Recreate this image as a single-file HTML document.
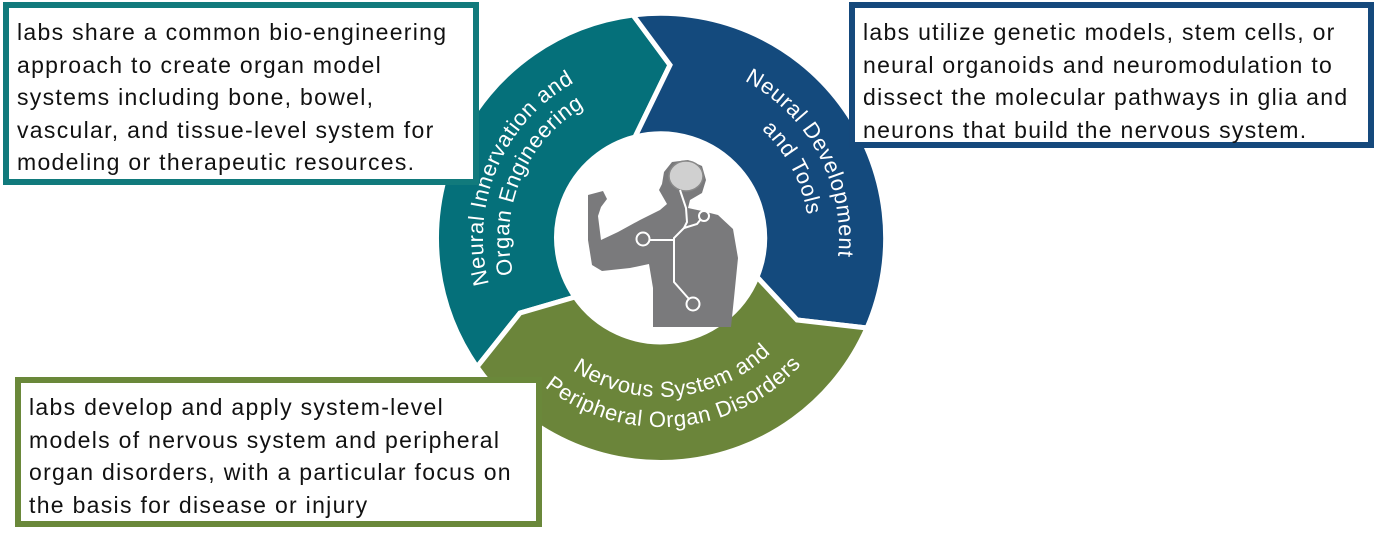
<!DOCTYPE html>
<html><head><meta charset="utf-8"><style>
html,body{margin:0;padding:0;background:#fff;}
body{width:1382px;height:535px;position:relative;overflow:hidden;font-family:"Liberation Sans",Arial,sans-serif;}
.box{position:absolute;background:#fff;box-sizing:border-box;font-size:23px;letter-spacing:1.3px;line-height:32.5px;color:#111;white-space:nowrap;}
</style></head><body>
<svg width="1382" height="535" style="position:absolute;left:0;top:0">
<defs>
<path id="t1" d="M 524.6 352.4 A 178 178 0 0 1 648.6 60.4"/>
<path id="t2" d="M 544.6 335.7 A 152 152 0 0 1 650.4 86.4"/>
<path id="b1" d="M 657.9 60.0 A 178 178 0 0 1 806.8 340.1"/>
<path id="b2" d="M 658.4 90.0 A 148 148 0 0 1 782.2 322.9"/>
<path id="g1" d="M 530.8 329.2 A 159 159 0 0 0 805.1 305.2"/>
<path id="g2" d="M 506.2 346.4 A 189 189 0 0 0 832.3 317.9"/>
</defs>
<g stroke="#fff" stroke-width="5" stroke-linejoin="miter">
<path fill="#05707a" d="M 477 367 A 225 225 0 0 1 633 15 L 670 65 L 635 137 A 104 104 0 0 0 575 297 L 520 313 Z"/>
<path fill="#144a7d" d="M 633 15 A 225 225 0 0 1 867 328 L 797 320 L 757 277 A 104 104 0 0 0 635 137 L 670 65 Z"/>
<path fill="#6b853a" d="M 867 328 A 225 225 0 0 1 477 367 L 520 313 L 575 297 A 104 104 0 0 0 757 277 L 797 320 Z"/>
</g>
<g fill="#fff" font-family="Liberation Sans, Arial, sans-serif" font-size="22" letter-spacing="0.6" text-anchor="middle">
<text><textPath href="#t1" startOffset="50%">Neural Innervation and</textPath></text>
<text><textPath href="#t2" startOffset="50%">Organ Engineering</textPath></text>
<text><textPath href="#b1" startOffset="50%">Neural Development</textPath></text>
<text><textPath href="#b2" startOffset="50%">and Tools</textPath></text>
<text><textPath href="#g1" startOffset="50%">Nervous System and</textPath></text>
<text><textPath href="#g2" startOffset="50%">Peripheral Organ Disorders</textPath></text>
</g>
<g fill="#7a7a7c">
<path d="M 588 195 L 603 191 L 607 199 L 601 207 L 598 216 L 601 240 L 618 232 L 640 220 L 660 210 L 667 204 L 663 197 L 659 190 L 662 184 L 664 172 L 672 162 L 688 160 L 702 166 L 706 180 L 702 193 L 690 200 L 688 208 L 702 211 L 718 215 L 733 229 L 738 258 L 734 298 L 731 327 L 653 327 L 653 288 L 649 264 L 630 268 L 602 271 L 592 265 L 588 240 Z"/>
</g>
<ellipse cx="686" cy="176" rx="17" ry="15" fill="#d0d0d0" stroke="#888" stroke-width="1.5"/>
<g stroke="#fff" stroke-width="2" fill="none">
<path d="M 680 190 L 686 208 L 687 222 L 684 228 L 674 238 L 674 282 L 689 299"/>
<path d="M 684 228 L 697 224 L 701 219"/>
<path d="M 674 240 L 650 240"/>
<circle cx="704" cy="216" r="5"/>
<circle cx="643" cy="239" r="6.5"/>
<circle cx="693" cy="304" r="6.5"/>
</g>
</svg>
<div class="box" style="left:3px;top:2px;width:476px;height:183px;border:6px solid #117a7c;padding:8px 0 0 8px;">labs share a common bio-engineering<br>approach to create organ model<br>systems including bone, bowel,<br>vascular, and tissue-level system for<br>modeling or therapeutic resources.</div>
<div class="box" style="left:849px;top:2px;width:525px;height:146px;border:6px solid #15497c;padding:8px 0 0 8px;">labs utilize genetic models, stem cells, or<br>neural organoids and neuromodulation to<br>dissect the molecular pathways in glia and<br>neurons that build the nervous system.</div>
<div class="box" style="left:15px;top:377px;width:527px;height:150px;border:6px solid #6a883a;padding:8px 0 0 8px;">labs develop and apply system-level<br>models of nervous system and peripheral<br>organ disorders, with a particular focus on<br>the basis for disease or injury</div>
</body></html>
